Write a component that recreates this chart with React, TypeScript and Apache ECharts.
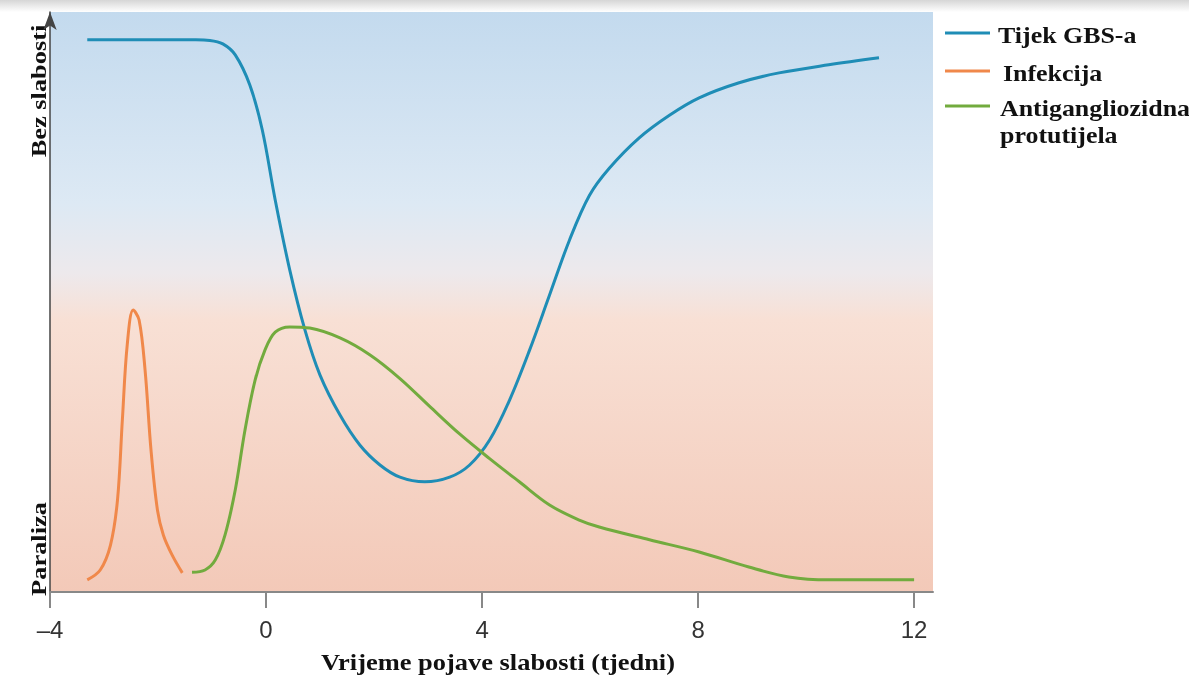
import React, { useEffect, useRef } from "react";
import * as echarts from "echarts";

const xTicks = [-4, 0, 4, 8, 12];

const gbsX = [-3.31, -1.3, -1.04, -0.8, -0.57, -0.3, -0.07, 0.17, 0.44, 0.72, 1.0, 1.37, 1.74, 2.11, 2.48, 2.94, 3.4, 3.77, 4.14, 4.51, 4.88, 5.25, 5.62, 5.99, 6.36, 6.91, 7.47, 8.02, 8.76, 9.5, 10.42, 11.35];
const gbsY = [9.52, 9.52, 9.51, 9.45, 9.26, 8.74, 7.97, 6.76, 5.55, 4.52, 3.74, 3.05, 2.53, 2.19, 1.98, 1.9, 1.98, 2.19, 2.62, 3.31, 4.17, 5.12, 6.07, 6.84, 7.31, 7.83, 8.22, 8.52, 8.78, 8.95, 9.09, 9.21];

const infX = [-3.31, -3.07, -2.88, -2.75, -2.66, -2.57, -2.46, -2.35, -2.24, -2.13, -2.01, -1.9, -1.74, -1.55];
const infY = [0.21, 0.38, 0.81, 1.59, 2.97, 4.26, 4.86, 4.69, 3.83, 2.45, 1.41, 0.98, 0.64, 0.33];

const abX = [-1.37, -1.13, -0.94, -0.76, -0.57, -0.39, -0.2, -0.02, 0.17, 0.44, 0.81, 1.37, 1.92, 2.48, 3.03, 3.59, 4.14, 4.69, 5.25, 5.8, 6.17, 7.1, 8.02, 8.94, 9.68, 10.42, 12.0];
const abY = [0.34, 0.38, 0.55, 0.98, 1.76, 2.79, 3.66, 4.17, 4.48, 4.57, 4.55, 4.38, 4.09, 3.68, 3.2, 2.72, 2.3, 1.9, 1.5, 1.24, 1.12, 0.9, 0.69, 0.43, 0.26, 0.21, 0.21];

const seriesNames = ["Tijek GBS-a", "Infekcija", "Antigangliozidna\nprotutijela"];
const colors = ["#1f8db6", "#f0884a", "#72ab3e"];

const zip = (xs: number[], ys: number[]) => xs.map((x, i) => [x, ys[i]]);

export default function App() {
  const ref = useRef<HTMLDivElement>(null);
  useEffect(() => {
    document.body.style.margin = "0";
    const chart = echarts.init(ref.current!, undefined, { renderer: "svg" });
    const serif = "'Liberation Serif', 'DejaVu Serif', serif";
    const legendY = [35, 73, 108];
    const legendX = [998, 1003, 1000];
    const graphic: any[] = [
      {
        type: "rect",
        shape: { x: 0, y: 0, width: 1189, height: 12 },
        style: {
          fill: new echarts.graphic.LinearGradient(0, 0, 0, 1, [
            { offset: 0, color: "#d6d6d6" },
            { offset: 1, color: "#ffffff" },
          ]),
        },
        z: -1,
      },
      {
        type: "text",
        x: 38,
        y: 91,
        rotation: Math.PI / 2,
        scaleX: 1.2,
        style: { text: "Bez slabosti", font: `bold 22px ${serif}`, fill: "#111", align: "center", verticalAlign: "middle" },
      },
      {
        type: "text",
        x: 38,
        y: 549,
        rotation: Math.PI / 2,
        scaleX: 1.2,
        style: { text: "Paraliza", font: `bold 22px ${serif}`, fill: "#111", align: "center", verticalAlign: "middle" },
      },
      {
        type: "text",
        x: 498,
        y: 662,
        scaleX: 1.15,
        style: { text: "Vrijeme pojave slabosti (tjedni)", font: `bold 23px ${serif}`, fill: "#111", align: "center", verticalAlign: "middle" },
      },
    ];
    seriesNames.forEach((n, i) => {
      graphic.push({
        type: "line",
        shape: { x1: 945, y1: legendY[i] - 2, x2: 990, y2: legendY[i] - 2 },
        style: { stroke: colors[i], lineWidth: 3 },
      });
      graphic.push({
        type: "text",
        x: legendX[i],
        y: legendY[i] - 14,
        scaleX: 1.08,
        style: { text: n, font: `bold 24px ${serif}`, fill: "#111", lineHeight: 27, align: "left", verticalAlign: "top" },
      });
    });

    chart.setOption({
      animation: false,
      grid: {
        left: 50,
        right: 256,
        top: 12,
        bottom: 83,
        show: true,
        borderWidth: 0,
        backgroundColor: new echarts.graphic.LinearGradient(0, 0, 0, 1, [
          { offset: 0, color: "#c3daee" },
          { offset: 0.33, color: "#dde9f4" },
          { offset: 0.45, color: "#ede9ec" },
          { offset: 0.53, color: "#f8e0d5" },
          { offset: 1, color: "#f3c9b8" },
        ]),
      },
      xAxis: {
        type: "value",
        min: -4,
        max: 12.35,
        splitLine: { show: false },
        axisLine: { onZero: false, lineStyle: { color: "#888", width: 2 } },
        axisTick: { length: 16, lineStyle: { color: "#888", width: 2 }, customValues: xTicks },
        axisLabel: {
          customValues: xTicks,
          fontSize: 24,
          color: "#333",
          margin: 25,
          fontFamily: "'Liberation Sans', Arial, sans-serif",
          formatter: (v: number) => (v < 0 ? "\u2013" + Math.abs(v) : String(v)),
        },
      },
      yAxis: {
        type: "value",
        min: 0,
        max: 10,
        splitLine: { show: false },
        axisLabel: { show: false },
        axisTick: { show: false },
        axisLine: { show: true, onZero: false, symbol: ["none", "arrow"], symbolSize: [10, 18], lineStyle: { color: "#444", width: 1.5 } },
      },
      graphic,
      series: [
        { name: seriesNames[0], type: "line", data: zip(gbsX, gbsY), smooth: 0.35, showSymbol: false, lineStyle: { color: colors[0], width: 3 } },
        { name: seriesNames[1], type: "line", data: zip(infX, infY), smooth: 0.35, showSymbol: false, lineStyle: { color: colors[1], width: 3 } },
        { name: seriesNames[2], type: "line", data: zip(abX, abY), smooth: 0.35, showSymbol: false, lineStyle: { color: colors[2], width: 3 } },
      ],
    });
    return () => chart.dispose();
  }, []);
  return <div ref={ref} style={{ position: "fixed", left: 0, top: 0, width: 1189, height: 675 }} />;
}
